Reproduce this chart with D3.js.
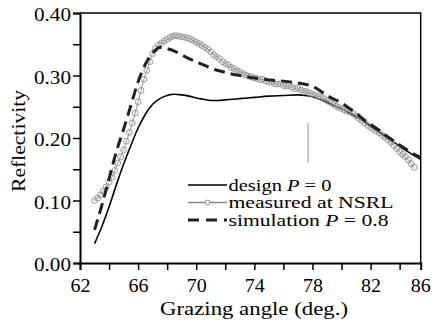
<!DOCTYPE html>
<html><head><meta charset="utf-8">
<script src="https://cdn.jsdelivr.net/npm/d3@7"></script>
<style>
html,body{margin:0;padding:0;background:#fff;}
svg{display:block;}
text{font-family:"Liberation Serif","Times New Roman",serif;fill:#000;}
</style></head>
<body><svg id="c" width="435" height="324"></svg>
<script>
// ---- data ----
const measuredStart = 63.0, measuredStep = 0.2;
const measuredValues = [
0.100,0.104,0.109,0.115,0.122,0.129,0.137,0.148,0.160,0.170,
0.181,0.195,0.209,0.224,0.240,0.258,0.276,0.294,0.308,0.322,
0.335,0.343,0.349,0.352,0.355,0.358,0.361,0.363,0.364,0.363,
0.362,0.361,0.360,0.358,0.356,0.353,0.351,0.348,0.345,0.342,
0.338,0.333,0.330,0.327,0.322,0.319,0.317,0.313,0.311,0.308,
0.306,0.303,0.301,0.299,0.298,0.296,0.295,0.293,0.294,0.291,
0.289,0.290,0.287,0.286,0.287,0.284,0.283,0.284,0.281,0.279,
0.280,0.277,0.275,0.274,0.272,0.270,0.268,0.267,0.265,0.263,
0.260,0.257,0.254,0.251,0.249,0.247,0.245,0.243,0.241,0.239,
0.235,0.231,0.228,0.224,0.220,0.217,0.214,0.211,0.208,0.204,
0.201,0.197,0.193,0.188,0.183,0.178,0.174,0.170,0.165,0.159,
0.153];
const designAngles = [63.0,63.5,64.0,64.5,65.0,65.5,66.0,66.5,67.0,67.5,68.0,68.5,69.0,69.5,70.0,70.5,71.0,71.5,72.0,72.5,73.0,74.0,75.0,76.0,77.0,77.5,78.0,78.5,79.0,79.5,80.0,80.5,81.0,81.5,82.0,82.5,83.0,83.5,84.0,84.5,85.0,85.45];
const designValues = [0.031,0.058,0.090,0.125,0.158,0.188,0.216,0.238,0.254,0.263,0.268,0.270,0.269,0.267,0.264,0.262,0.260,0.260,0.261,0.262,0.263,0.265,0.267,0.268,0.269,0.268,0.266,0.262,0.257,0.252,0.247,0.241,0.234,0.227,0.219,0.211,0.203,0.195,0.187,0.179,0.172,0.166];
const simAngles = [63.0,63.5,64.0,64.5,65.0,65.5,66.0,66.5,67.0,67.5,68.0,68.5,69.0,69.5,70.0,70.5,71.0,71.5,72.0,72.5,73.0,73.5,74.0,75.0,76.0,77.0,77.5,78.0,78.5,79.0,79.5,80.0,80.5,81.0,81.5,82.0,82.5,83.0,83.5,84.0,84.5,85.0,85.45];
const simValues = [0.053,0.092,0.135,0.178,0.214,0.252,0.290,0.318,0.336,0.345,0.343,0.339,0.333,0.327,0.322,0.317,0.312,0.308,0.305,0.302,0.300,0.298,0.296,0.293,0.291,0.288,0.286,0.283,0.276,0.268,0.262,0.256,0.248,0.240,0.230,0.222,0.214,0.205,0.197,0.189,0.181,0.174,0.169];
const xTickValues = [62,64,66,68,70,72,74,76,78,80,82,84];
const xTickLabels = ["62","","66","","70","","74","","78","","82",""];
const xLastLabel = "86";
const yTickValues = [0,0.05,0.10,0.15,0.20,0.25,0.30,0.35,0.40];
const yTickLabels = ["0.00","","0.10","","0.20","","0.30","","0.40"];
const markerAngle = 77.7;
const legendItems = ["design", "measured at NSRL", "simulation"];

// ---- chart ----
const FS = 18, LFS = 16;
const svg = d3.select("#c");
const L = 80, R = 420.7, T = 13, B = 263;
const x = d3.scaleLinear().domain([62, 85.45]).range([L, R]);
const y = d3.scaleLinear().domain([0, 0.4]).range([B, T]);

const measured = measuredValues.map((v,i)=>({a: +(measuredStart + i*measuredStep).toFixed(1), v}));
const design = designAngles.map((a,i)=>({a, v: designValues[i]}));
const sim = simAngles.map((a,i)=>({a, v: simValues[i]}));

const line = d3.line().x(d=>x(d.a)).y(d=>y(d.v)).curve(d3.curveMonotoneX);

// frame top/right
svg.append("path").attr("d",`M${L},${T}H${R}V${B}`).attr("fill","none").attr("stroke","#000").attr("stroke-width",1.5);

// marker vertical line
svg.append("line").attr("x1",x(markerAngle)).attr("x2",x(markerAngle)).attr("y1",y(0.224)).attr("y2",y(0.160))
  .attr("stroke","#999").attr("stroke-width",1);
svg.append("line").attr("x1",x(markerAngle)).attr("x2",x(markerAngle)).attr("y1",y(0.293)).attr("y2",y(0.266))
  .attr("stroke","#ccc").attr("stroke-width",1).attr("stroke-dasharray","2,2");

// design
svg.append("path").datum(design).attr("d",line).attr("fill","none").attr("stroke","#000").attr("stroke-width",1.6);
// measured
svg.append("path").datum(measured).attr("d",line).attr("fill","none").attr("stroke","#999").attr("stroke-width",1);
svg.append("g").selectAll("circle").data(measured).join("circle")
  .attr("cx",d=>x(d.a)).attr("cy",d=>y(d.v)).attr("r",2.9)
  .attr("fill","none").attr("stroke","#8c8c8c").attr("stroke-width",0.9);
// simulation
svg.append("path").datum(sim).attr("d",line).attr("fill","none").attr("stroke","#222").attr("stroke-width",3)
  .attr("stroke-dasharray","11,6");

function stretch(sel, w){ sel.attr("textLength", w).attr("lengthAdjust","spacingAndGlyphs"); }

// axes
const xAxis = d3.axisBottom(x).tickValues(xTickValues).tickSize(7).tickPadding(9)
  .tickFormat((d,i)=>xTickLabels[i]);
const gx = svg.append("g").attr("transform",`translate(0,${B})`).call(xAxis)
  .attr("font-family",null).attr("font-size",null);
gx.select(".domain").attr("stroke-width",2);
gx.selectAll(".tick line").attr("stroke-width",1.5);
gx.selectAll("text").attr("font-size",FS).each(function(){ if (this.textContent) stretch(d3.select(this), 20); });
const last = gx.append("text").attr("x",R).attr("y",7+9).attr("dy","0.71em").attr("text-anchor","middle")
  .attr("font-size",FS).attr("fill","#000").text(xLastLabel);
stretch(last, 20);

const yAxis = d3.axisLeft(y).tickValues(yTickValues).tickSize(7).tickPadding(2)
  .tickFormat((d,i)=>yTickLabels[i]);
const gy = svg.append("g").attr("transform",`translate(${L},0)`).call(yAxis)
  .attr("font-family",null).attr("font-size",null);
gy.select(".domain").attr("stroke-width",2);
gy.selectAll(".tick line").attr("stroke-width",1.5);
gy.selectAll("text").attr("font-size",FS).attr("dy","0.43em").each(function(){ if (this.textContent) stretch(d3.select(this), 37); });

// axis titles
const xt = svg.append("text").attr("x",254).attr("y",315).attr("text-anchor","middle").attr("font-size",FS).text("Grazing angle (deg.)");
stretch(xt, 188);
const yt = svg.append("text").attr("transform","translate(25,141) rotate(-90)").attr("text-anchor","middle").attr("font-size",FS).text("Reflectivity");
stretch(yt, 102);

// legend
const lg = svg.append("g");
const rows = [185, 202.5, 220];
const lx1 = 188, lx2 = 227, tx = 228.5;
lg.append("line").attr("x1",lx1).attr("x2",lx2).attr("y1",rows[0]).attr("y2",rows[0]).attr("stroke","#000").attr("stroke-width",1.6);
lg.append("line").attr("x1",lx1).attr("x2",lx2).attr("y1",rows[1]).attr("y2",rows[1]).attr("stroke","#888").attr("stroke-width",1.3);
lg.append("circle").attr("cx",(lx1+lx2)/2).attr("cy",rows[1]).attr("r",2.3).attr("fill","#fff").attr("stroke","#888").attr("stroke-width",1);
lg.append("line").attr("x1",lx1).attr("x2",lx2).attr("y1",rows[2]).attr("y2",rows[2]).attr("stroke","#222").attr("stroke-width",3).attr("stroke-dasharray","11,7");

const t0 = lg.append("text").attr("x",tx).attr("y",rows[0]+5.5).attr("font-size",LFS);
t0.append("tspan").text(legendItems[0]+" ");
t0.append("tspan").attr("font-style","italic").text("P");
t0.append("tspan").text(" = 0");
stretch(t0, 103);
const t1 = lg.append("text").attr("x",tx).attr("y",rows[1]+5.5).attr("font-size",LFS).text(legendItems[1]);
stretch(t1, 165);
const t2 = lg.append("text").attr("x",tx).attr("y",rows[2]+5.5).attr("font-size",LFS);
t2.append("tspan").text(legendItems[2]+" ");
t2.append("tspan").attr("font-style","italic").text("P");
t2.append("tspan").text(" = 0.8");
stretch(t2, 160);
</script></body></html>
